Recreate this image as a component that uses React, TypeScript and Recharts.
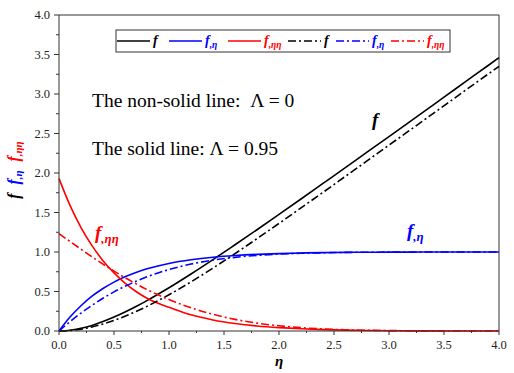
import { LineChart, Line, XAxis, YAxis, ReferenceLine } from 'recharts';

// eta grid (finer near the wall)
const eta = [0, 0.1, 0.2, 0.3, 0.4, 0.5, 0.6, 0.7, 0.8, 0.9, 1.0, 1.2, 1.4, 1.6, 1.8, 2.0, 2.2, 2.4, 2.6, 2.8, 3.0, 3.2, 3.4, 3.6, 3.8, 4.0];

// solid lines: Lambda = 0.95
const fSolid = [0, 0.009, 0.035, 0.071, 0.119, 0.176, 0.24, 0.31, 0.385, 0.465, 0.548, 0.722, 0.904, 1.092, 1.282, 1.476, 1.671, 1.868, 2.065, 2.263, 2.461, 2.66, 2.86, 3.06, 3.26, 3.46];
const fpSolid = [0, 0.176, 0.32, 0.44, 0.538, 0.619, 0.686, 0.741, 0.787, 0.824, 0.855, 0.901, 0.933, 0.955, 0.97, 0.98, 0.987, 0.992, 0.995, 0.997, 0.998, 0.999, 1.0, 1.0, 1.0, 1.0];
const fppSolid = [1.93, 1.59, 1.31, 1.08, 0.89, 0.735, 0.606, 0.5, 0.415, 0.35, 0.3, 0.205, 0.14, 0.095, 0.064, 0.043, 0.028, 0.018, 0.011, 0.007, 0.004, 0.002, 0.001, 0.0005, 0.0003, 0.0002];

// dash-dot lines: Lambda = 0
const fDash = [0, 0.006, 0.023, 0.051, 0.088, 0.135, 0.187, 0.247, 0.312, 0.384, 0.459, 0.622, 0.797, 0.98, 1.169, 1.362, 1.558, 1.755, 1.954, 2.153, 2.353, 2.552, 2.752, 2.952, 3.152, 3.35];
const fpDash = [0, 0.118, 0.227, 0.325, 0.415, 0.495, 0.566, 0.63, 0.686, 0.735, 0.778, 0.847, 0.897, 0.932, 0.957, 0.973, 0.984, 0.99, 0.995, 0.997, 0.998, 0.999, 1.0, 1.0, 1.0, 1.0];
const fppDash = [1.233, 1.133, 1.035, 0.939, 0.846, 0.758, 0.675, 0.598, 0.525, 0.458, 0.398, 0.294, 0.211, 0.147, 0.1, 0.066, 0.042, 0.026, 0.016, 0.009, 0.005, 0.003, 0.0014, 0.0007, 0.0003, 0.0002];

const xTicks = [0, 0.25, 0.5, 0.75, 1, 1.25, 1.5, 1.75, 2, 2.25, 2.5, 2.75, 3, 3.25, 3.5, 3.75, 4];
const yTicks = xTicks;

const data = eta.map((x, i) => ({
  eta: x,
  fSolid: fSolid[i],
  fpSolid: fpSolid[i],
  fppSolid: fppSolid[i],
  fDash: fDash[i],
  fpDash: fpDash[i],
  fppDash: fppDash[i],
}));

const BLUE = '#0000FF';
const RED = '#FF0000';
const DASHDOT = '8 3 2 3';
const SERIF = 'Liberation Serif, Tinos, DejaVu Serif, Times New Roman, serif';

const series = [
  { key: 'fSolid', color: '#000', dash: undefined, sub: '' },
  { key: 'fpSolid', color: BLUE, dash: undefined, sub: ',η' },
  { key: 'fppSolid', color: RED, dash: undefined, sub: ',ηη' },
  { key: 'fDash', color: '#000', dash: DASHDOT, sub: '' },
  { key: 'fpDash', color: BLUE, dash: DASHDOT, sub: ',η' },
  { key: 'fppDash', color: RED, dash: DASHDOT, sub: ',ηη' },
];
const legendX = [116, 168, 227, 287, 335, 390];

const isMajor = (v: number) => Math.abs(v * 2 - Math.round(v * 2)) < 1e-6;

function XTick(props: any) {
  const { x, y, payload } = props;
  const major = isMajor(payload.value);
  return (
    <g>
      <line x1={x} x2={x} y1={y} y2={y + (major ? 4 : 2)} stroke="#333" />
      {major && (
        <text x={x} y={y + 18} textAnchor="middle" fontSize={12.5} style={{ fontFamily: SERIF }} fill="#222">
          {payload.value.toFixed(1)}
        </text>
      )}
    </g>
  );
}

function YTick(props: any) {
  const { x, y, payload } = props;
  const major = isMajor(payload.value);
  return (
    <g>
      <line x1={x} x2={x - (major ? 5 : 3)} y1={y} y2={y} stroke="#333" />
      {major && (
        <text x={x - 9} y={y + 4} textAnchor="end" fontSize={12.5} style={{ fontFamily: SERIF }} fill="#222">
          {payload.value.toFixed(1)}
        </text>
      )}
    </g>
  );
}

function Label({ x, y, color, sub, size }: { x: number; y: number; color: string; sub: string; size: number }) {
  return (
    <text x={x} y={y} fill={color} style={{ fontFamily: SERIF }} fontStyle="italic" fontWeight="bold" fontSize={size}>
      f
      {sub && (
        <tspan fontSize={size * 0.68} dy={size * 0.22}>
          {sub}
        </tspan>
      )}
    </text>
  );
}

export default function App() {
  return (
    <div style={{ position: 'absolute', left: 0, top: 0, width: 514, height: 373, background: '#fff', fontFamily: SERIF }}>
      <LineChart width={514} height={373} data={data} margin={{ top: 15, right: 15, bottom: 0, left: 0 }}>
        <XAxis
          type="number"
          dataKey="eta"
          domain={[0, 4]}
          ticks={xTicks}
          interval={0}
          tickLine={false}
          tickSize={0}
          tickMargin={0}
          tick={(p: any) => <XTick {...p} />}
          height={42}
          stroke="#333"
        />
        <YAxis
          type="number"
          domain={[0, 4]}
          ticks={yTicks}
          interval={0}
          tickLine={false}
          tickSize={0}
          tickMargin={0}
          tick={(p: any) => <YTick {...p} />}
          width={59}
          stroke="#333"
        />
        <ReferenceLine x={4} stroke="#333" />
        <ReferenceLine y={4} stroke="#333" />
        {series.map((s) => (
          <Line
            key={s.key}
            type="monotone"
            dataKey={s.key}
            stroke={s.color}
            strokeWidth={1.6}
            strokeDasharray={s.dash}
            dot={false}
            isAnimationActive={false}
          />
        ))}
      </LineChart>

      <svg width={514} height={373} style={{ position: 'absolute', left: 0, top: 0, pointerEvents: 'none', fontFamily: SERIF }}>
        {/* legend */}
        <rect x={116} y={30} width={334} height={22} fill="#fff" stroke="#333" />
        {series.map((s, i) => (
          <g key={s.key}>
            <line x1={legendX[i] + 1} x2={legendX[i] + 34} y1={41} y2={41} stroke={s.color} strokeWidth={1.6} strokeDasharray={s.dash} />
            <Label x={legendX[i] + 37} y={45} color={s.color} sub={s.sub} size={14} />
          </g>
        ))}

        {/* annotations */}
        <text x={92} y={107} fontSize={19.5} fill="#000">
          The non-solid line:{'\u00A0\u00A0'}Λ = 0
        </text>
        <text x={92} y={155} fontSize={19.5} fill="#000">
          The solid line: Λ = 0.95
        </text>
        <Label x={372} y={126} color="#000" sub="" size={19} />
        <Label x={407} y={237} color={BLUE} sub=",η" size={19} />
        <Label x={95} y={239} color={RED} sub=",ηη" size={19} />

        {/* y axis title */}
        <text transform="translate(19,170) rotate(-90)" textAnchor="middle" fontStyle="italic" fontWeight="bold" fontSize={16}>
          <tspan fill="#000">f</tspan>
          <tspan fill={BLUE} dx={9}>f</tspan>
          <tspan fill={BLUE} fontSize={11} dy={3}>,η</tspan>
          <tspan fill={RED} dx={9} dy={-3}>f</tspan>
          <tspan fill={RED} fontSize={11} dy={3}>,ηη</tspan>
        </text>

        {/* x axis title */}
        <text x={279} y={366} textAnchor="middle" fontStyle="italic" fontWeight="bold" fontSize={15}>
          η
        </text>
      </svg>
    </div>
  );
}
